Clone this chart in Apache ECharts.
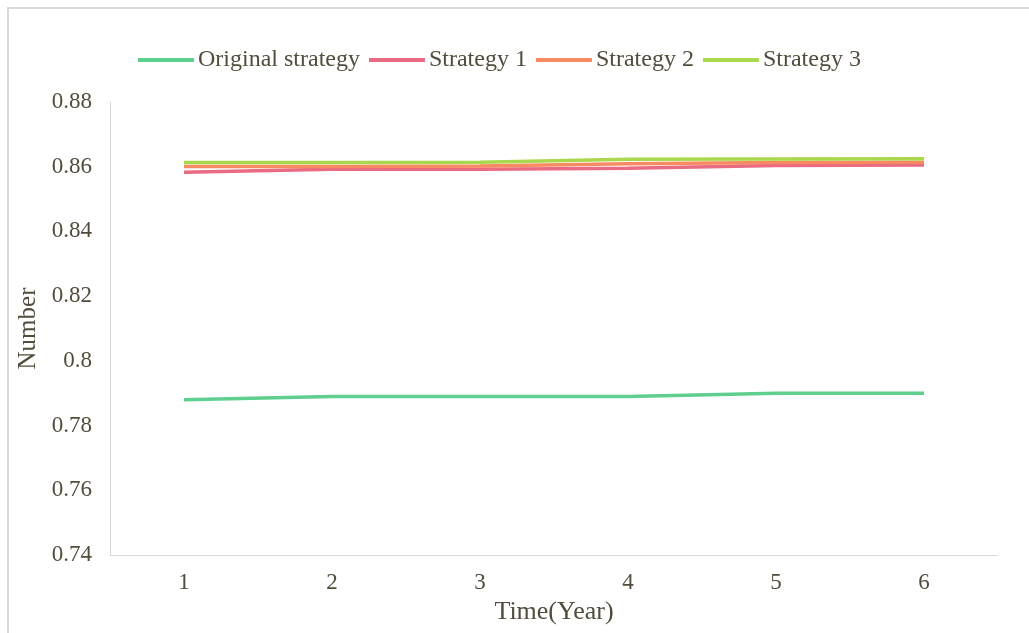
<!DOCTYPE html>
<html>
<head>
<meta charset="utf-8">
<script src="https://cdn.jsdelivr.net/npm/echarts@6/dist/echarts.min.js"></script>
<style>
  html, body { margin: 0; padding: 0; background: #fff; }
  #frame { position: absolute; left: 7px; top: 7px; width: 1040px; height: 650px;
           border-left: 2px solid #d9d9d9; border-top: 2px solid #d9d9d9; }
  #chart { position: absolute; left: 0; top: 0; width: 1029px; height: 633px; }
</style>
</head>
<body>
<div id="frame"></div>
<div id="chart"></div>
<script>
let years = ['1', '2', '3', '4', '5', '6']
let originalStrategy = [0.788, 0.789, 0.789, 0.789, 0.790, 0.790]
let strategy1 = [0.8583, 0.8592, 0.8592, 0.8595, 0.8604, 0.8605]
let strategy2 = [0.8601, 0.8601, 0.8602, 0.8609, 0.8613, 0.8614]
let strategy3 = [0.8613, 0.8613, 0.8614, 0.8623, 0.8624, 0.8625]
let yTicks = [0.74, 0.76, 0.78, 0.8, 0.82, 0.84, 0.86, 0.88]

let textColor = '#524c3c'
let font = 'Liberation Serif'

function line(name, data, color) {
	return {
		name: name,
		type: 'line',
		data: data,
		symbol: 'none',
		lineStyle: { width: 3.5, color: color },
		itemStyle: { color: color }
	}
}

let myChart = echarts.init(document.getElementById('chart'))
let option = {
	animation: false,
	textStyle: { fontFamily: font, color: textColor },
	legend: {
		top: 43,
		left: 133,
		itemWidth: 56,
		itemHeight: 4,
		itemGap: 9,
		icon: 'rect',
		textStyle: { fontFamily: font, fontSize: 24, color: textColor, padding: [0, 0, 0, -1] },
		data: ['Original strategy', 'Strategy 1', 'Strategy 2', 'Strategy 3']
	},
	grid: { left: 110, right: 31, top: 102, bottom: 78 },
	xAxis: {
		type: 'category',
		data: years,
		boundaryGap: true,
		name: 'Time(Year)',
		nameLocation: 'middle',
		nameGap: 40,
		nameTextStyle: { fontFamily: font, fontSize: 26, color: textColor },
		axisLine: { lineStyle: { color: '#d9d9d9', width: 1 } },
		axisTick: { show: false },
		axisLabel: { fontFamily: font, fontSize: 23, color: textColor, margin: 16 }
	},
	yAxis: {
		type: 'value',
		min: yTicks[0],
		max: yTicks[yTicks.length - 1],
		interval: 0.02,
		name: 'Number',
		nameLocation: 'middle',
		nameGap: 68,
		nameTextStyle: { fontFamily: font, fontSize: 25, color: textColor },
		axisLine: { show: true, lineStyle: { color: '#d9d9d9', width: 1 } },
		axisTick: { show: false },
		splitLine: { show: false },
		axisLabel: {
			fontFamily: font, fontSize: 23, color: textColor, margin: 18,
			formatter: function (v) { return String(parseFloat(v.toFixed(2))) }
		}
	},
	series: [
		line('Original strategy', originalStrategy, '#5ecf8e'),
		line('Strategy 1', strategy1, '#ea6a82'),
		line('Strategy 2', strategy2, '#f88a62'),
		line('Strategy 3', strategy3, '#a9d84c')
	]
}
myChart.setOption(option)
</script>
</body>
</html>
